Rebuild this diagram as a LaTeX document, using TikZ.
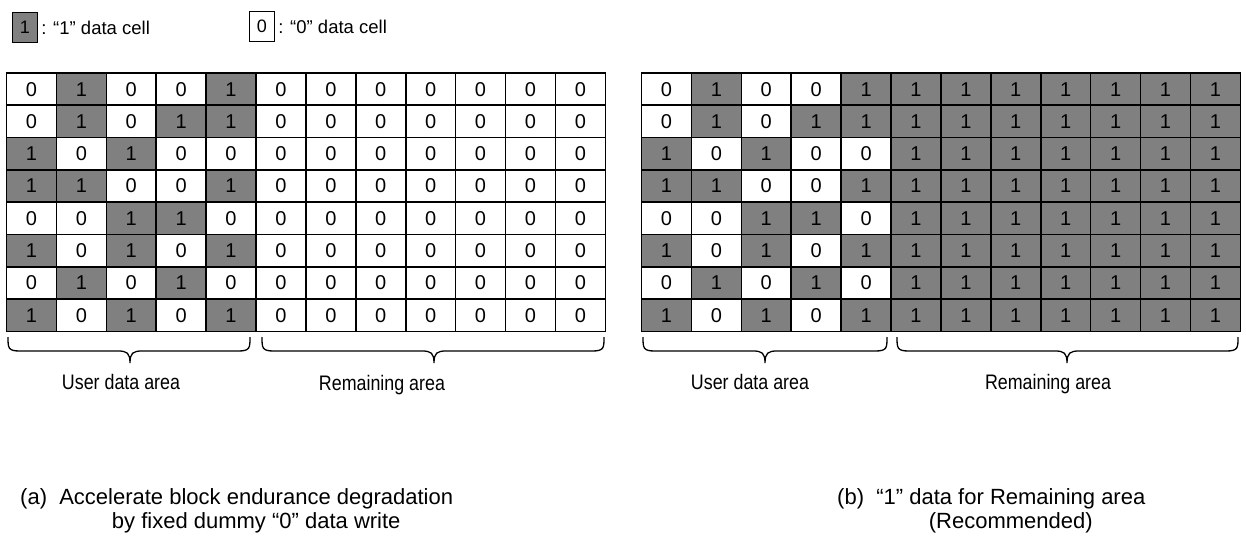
\documentclass[tikz,border=0pt]{standalone}
\usepackage{fontspec}
\setmainfont{Liberation Sans}
\definecolor{cellgray}{RGB}{128,128,128}
\tikzset{
  cell/.style={draw=black, line width=1.6pt, minimum width=49.9pt, minimum height=32.3pt,
    inner sep=0pt, font=\fontsize{20}{20}\selectfont},
  val0/.style={cell, fill=white},
  val1/.style={cell, fill=cellgray},
  legbox/.style={draw=black, line width=1.1pt, minimum width=25pt, minimum height=30pt,
    inner sep=0pt, font=\fontsize{18}{18}\selectfont},
  legtext/.style={anchor=west, inner sep=0pt, font=\fontsize{18.5}{18.5}\selectfont},
  bracestyle/.style={draw=black, line width=1.3pt},
  arealabel/.style={anchor=base, inner sep=0pt, font=\fontsize{21}{21}\selectfont},
  title/.style={anchor=north west, inner sep=0pt, font=\fontsize{22}{24}\selectfont}
}
\newcommand\areabrace[4]{% name, x1, x2, mid
  \coordinate (#1l) at (#2,337);
  \coordinate (#1r) at (#3,337);
  \coordinate (#1t) at (#4,363);
  \draw[bracestyle] (#1l) .. controls (#2,348) and (#2,351) .. (#2+12,351)
    -- (#4-12,351) .. controls (#4-3,351) and (#4,353) .. (#1t)
    .. controls (#4,353) and (#4+3,351) .. (#4+12,351)
    -- (#3-12,351) .. controls (#3,351) and (#3,348) .. (#1r);
}
\begin{document}
\begin{tikzpicture}[x=1pt,y=-1pt]
\useasboundingbox[fill=white] (0,0) rectangle (1246,559);

% legend
\node[legbox, fill=cellgray] (leg1) at (25,27.5) {1};
\node[legtext] (leg1t) at ([xshift=3pt]leg1.east) {: “1” data cell};
\node[legbox, fill=white] (leg0) at (262,26.5) {0};
\node[legtext] (leg0t) at ([xshift=3pt]leg0.east) {: “0” data cell};

% grid (a)
\foreach \row [count=\r] in {{0,1,0,0,1,0,0,0,0,0,0,0},{0,1,0,1,1,0,0,0,0,0,0,0},
  {1,0,1,0,0,0,0,0,0,0,0,0},{1,1,0,0,1,0,0,0,0,0,0,0},{0,0,1,1,0,0,0,0,0,0,0,0},
  {1,0,1,0,1,0,0,0,0,0,0,0},{0,1,0,1,0,0,0,0,0,0,0,0},{1,0,1,0,1,0,0,0,0,0,0,0}}
  \foreach \v [count=\c] in \row
    \node[val\v] (a-\r-\c) at ({6.5+(\c-0.5)*49.9},{73+(\r-0.5)*32.3}) {\v};

% grid (b)
\foreach \row [count=\r] in {{0,1,0,0,1,1,1,1,1,1,1,1},{0,1,0,1,1,1,1,1,1,1,1,1},
  {1,0,1,0,0,1,1,1,1,1,1,1},{1,1,0,0,1,1,1,1,1,1,1,1},{0,0,1,1,0,1,1,1,1,1,1,1},
  {1,0,1,0,1,1,1,1,1,1,1,1},{0,1,0,1,0,1,1,1,1,1,1,1},{1,0,1,0,1,1,1,1,1,1,1,1}}
  \foreach \v [count=\c] in \row
    \node[val\v] (b-\r-\c) at ({641.5+(\c-0.5)*49.9},{73+(\r-0.5)*32.3}) {\v};

% braces
\areabrace{ua}{8}{250}{130}
\areabrace{ra}{262}{604}{434}
\areabrace{ub}{643}{887}{765}
\areabrace{rb}{897}{1238}{1067}

\node[arealabel] (lua) at (121,389) {\scalebox{0.85}[1]{User data area}};
\node[arealabel] (lra) at (382,390) {\scalebox{0.85}[1]{Remaining area}};
\node[arealabel] (lub) at (750,389) {\scalebox{0.85}[1]{User data area}};
\node[arealabel] (lrb) at (1048,389) {\scalebox{0.85}[1]{Remaining area}};

% titles
\node[title] (ta) at (20,487) {(a)\ \ \begin{tabular}[t]{@{}c@{}}Accelerate block endurance degradation\\by fixed dummy “0” data write\end{tabular}};
\node[title] (tb) at (837,487) {(b)\ \ \begin{tabular}[t]{@{}c@{}}“1” data for Remaining area\\(Recommended)\end{tabular}};
\end{tikzpicture}
\end{document}
